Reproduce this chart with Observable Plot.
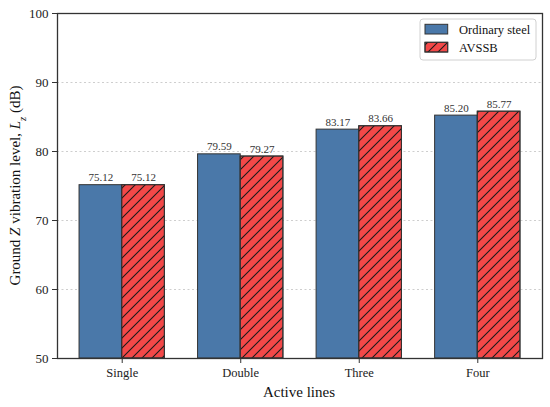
<!DOCTYPE html>
<html><head><meta charset="utf-8">
<script src="https://cdn.jsdelivr.net/npm/d3@7"></script>
<script src="https://cdn.jsdelivr.net/npm/@observablehq/plot@0.6"></script>
<style>body{margin:0;background:#fff} svg, svg text{font-family:"Liberation Serif",serif}</style>
</head><body><div id="chart"></div>
<script>
const categories = ["Single", "Double", "Three", "Four"];
const ordinarySteel = [75.12, 79.59, 83.17, 85.20];
const avssb = [75.12, 79.27, 83.66, 85.77];
const seriesNames = ["Ordinary steel", "AVSSB"];
const seriesColors = ["#4a78a9", "#f24848"];
const yTicks = [50, 60, 70, 80, 90, 100];

const W = 0.36;
const data = [];
categories.forEach((c, i) => {
  data.push({cat: c, i, s: 0, series: seriesNames[0], value: ordinarySteel[i]});
  data.push({cat: c, i, s: 1, series: seriesNames[1], value: avssb[i]});
});
const bx1 = d => d.i + (d.s === 0 ? -W : 0);
const bx2 = d => d.i + (d.s === 0 ? 0 : W);
const bxc = d => d.i + (d.s === 0 ? -W / 2 : W / 2);

const plot = Plot.plot({
  width: 550, height: 407,
  marginLeft: 57, marginRight: 8, marginTop: 13, marginBottom: 49,
  style: {fontFamily: "Liberation Serif, serif", fontSize: "13px", color: "#333", background: "#fff"},
  x: {type: "linear", domain: [-0.546, 3.546]},
  y: {domain: [50, 100]},
  color: {domain: seriesNames, range: seriesColors},
  marks: [
    Plot.gridY(yTicks.filter(v => v > 50 && v < 100), {stroke: "#c8c8c8", strokeOpacity: 1, strokeDasharray: "2,2.5", strokeWidth: 0.9}),
    Plot.rect(data, {x1: bx1, x2: bx2, y1: 50, y2: "value", fill: "series", stroke: "#333", strokeWidth: 1}),
    Plot.rect(data.filter(d => d.s === 1), {x1: bx1, x2: bx2, y1: 50, y2: "value", fill: "url(#hatch)", stroke: "#333", strokeWidth: 1}),
    Plot.text(data, {x: bxc, y: "value", text: d => d.value.toFixed(2), dy: -4, lineAnchor: "bottom", fontSize: 11, fill: "#333"}),
    Plot.axisX({ticks: [0, 1, 2, 3], tickFormat: i => categories[i], label: null, tickSize: 5, tickPadding: 5, fontSize: 12.5, fill: "#222"}),
    Plot.axisY({ticks: yTicks, label: null, tickSize: 5, tickPadding: 4, fontSize: 13, fill: "#222"}),
    Plot.frame({stroke: "#333", strokeWidth: 1.3})
  ]
});

const svg = d3.select(plot);
const defs = svg.insert("defs", ":first-child");
const P = 10;
const pat = defs.append("pattern").attr("id", "hatch").attr("patternUnits", "userSpaceOnUse")
  .attr("width", P).attr("height", P);
pat.append("path").attr("d", `M-1,1 L1,-1 M0,${P} L${P},0 M${P - 1},${P + 1} L${P + 1},${P - 1}`)
  .attr("stroke", "#1a1a1a").attr("stroke-width", 1.1).attr("fill", "none");

// y axis label with italic and subscript
const yl = svg.append("text").attr("transform", "translate(15,185.5) rotate(-90)")
  .attr("text-anchor", "middle").attr("dy", "0.35em").attr("font-size", 15).attr("fill", "#111")
  .style("font-family", "Liberation Serif, serif");
yl.append("tspan").text("Ground ");
yl.append("tspan").attr("font-style", "italic").text("Z");
yl.append("tspan").text(" vibration level, ");
yl.append("tspan").attr("font-style", "italic").text("L");
yl.append("tspan").attr("font-style", "italic").attr("font-size", 10.5).attr("baseline-shift", "sub").text("z");
yl.append("tspan").text(" (dB)");

// x axis label
svg.append("text").attr("x", 299).attr("y", 397).attr("text-anchor", "middle")
  .attr("font-size", 15).attr("fill", "#111").style("font-family", "Liberation Serif, serif").text("Active lines");

// legend
const lg = svg.append("g").attr("text-anchor", "start");
lg.append("rect").attr("x", 420).attr("y", 19).attr("width", 116).attr("height", 41).attr("rx", 3)
  .attr("fill", "#fff").attr("fill-opacity", 0.85).attr("stroke", "#d0d0d0");
seriesNames.forEach((name, k) => {
  const y = 24.3 + k * 18;
  lg.append("rect").attr("x", 425).attr("y", y).attr("width", 22.7).attr("height", 9.7)
    .attr("fill", seriesColors[k]).attr("stroke", "#333");
  if (k === 1) lg.append("rect").attr("x", 425).attr("y", y).attr("width", 22.7).attr("height", 9.7)
    .attr("fill", "url(#hatch)").attr("stroke", "#333");
  lg.append("text").attr("x", 459).attr("y", y + 9.3).attr("text-anchor", "start")
    .attr("font-size", 12.5).attr("fill", "#111").style("font-family", "Liberation Serif, serif").text(name);
});

document.getElementById("chart").appendChild(plot);
</script>
</body></html>
